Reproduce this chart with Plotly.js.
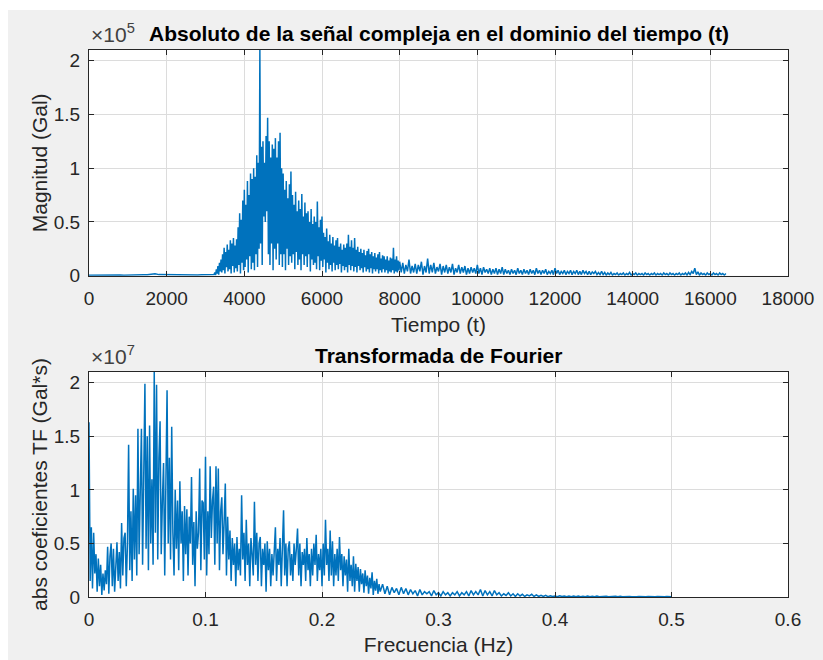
<!DOCTYPE html>
<html>
<head>
<meta charset="utf-8">
<script src="https://cdn.plot.ly/plotly-3.0.1.min.js"></script>
<style>
  html, body { margin: 0; padding: 0; background: #ffffff; }
  #fig { position: absolute; left: 8px; top: 10px; width: 815px; height: 650px; }
</style>
</head>
<body>
<div id="fig"></div>
<script>
// ---- Time-domain magnitude, in units of 1e5 Gal (axis multiplier x10^5) ----
// Quiet part before the arrival: t = 0 .. 3200, every 100 samples
const tPreStart = 0, tPreStep = 100;
const magPre = [0.003,0.004,0.003,0.005,0.004,0.006,0.005,0.004,0.006,0.005,0.007,0.006,0.008,0.007,0.009,0.008,0.012,0.018,0.01,0.009,0.011,0.008,0.01,0.009,0.008,0.01,0.009,0.008,0.007,0.009,0.008,0.01,0.012];

// Strong motion: t = 3220 .. 8000, every 20 samples
const tMainStart = 3220, tMainStep = 20;
const magMain = [
  0.01,0.03,0.005,0.06,0.02,0.09,0.01,0.12,0.04,0.15,
  0.03,0.2,0.05,0.26,0.02,0.22,0.08,0.29,0.04,0.24,
  0.06,0.33,0.02,0.3,0.09,0.35,0.03,0.28,0.07,0.34,
  0.04,0.45,0.1,0.58,0.02,0.52,0.12,0.7,0.05,0.8,
  0.08,0.66,0.15,0.88,0.03,0.75,0.18,0.95,0.06,0.9,
  0.12,1.0,0.05,0.92,0.2,1.12,0.08,1.05,0.25,2.1,
  0.3,1.2,0.1,1.25,0.55,1.05,0.5,1.3,0.6,1.47,
  0.2,1.25,0.1,1.1,0.3,1.22,0.05,1.18,0.25,1.28,
  0.15,1.1,0.3,1.25,0.1,1.33,0.2,1.0,0.08,0.95,
  0.2,0.8,0.05,0.88,0.25,0.72,0.1,0.85,0.18,0.97,
  0.12,0.75,0.2,0.66,0.06,0.78,0.22,0.6,0.1,0.7,
  0.15,0.62,0.05,0.76,0.2,0.55,0.1,0.68,0.18,0.58,
  0.08,0.6,0.2,0.5,0.04,0.62,0.15,0.48,0.1,0.55,
  0.12,0.5,0.06,0.69,0.18,0.45,0.05,0.52,0.14,0.55,
  0.08,0.4,0.15,0.36,0.03,0.44,0.12,0.32,0.06,0.38,
  0.1,0.3,0.04,0.36,0.12,0.28,0.05,0.33,0.1,0.35,
  0.06,0.27,0.11,0.3,0.03,0.24,0.09,0.29,0.05,0.26,
  0.08,0.3,0.03,0.38,0.1,0.27,0.05,0.33,0.09,0.26,
  0.04,0.35,0.08,0.24,0.03,0.27,0.09,0.22,0.05,0.25,
  0.07,0.21,0.03,0.24,0.08,0.19,0.04,0.23,0.06,0.25,
  0.03,0.2,0.07,0.22,0.02,0.18,0.06,0.21,0.04,0.17,
  0.06,0.2,0.02,0.22,0.05,0.16,0.03,0.19,0.06,0.18,
  0.03,0.15,0.05,0.18,0.02,0.14,0.04,0.17,0.03,0.16,
  0.05,0.26,0.02,0.15,0.04,0.18,0.03,0.14,0.05,0.13
];

// Coda: t = 8040 .. 16400, every 40 samples
const tTailStart = 8040, tTailStep = 40;
const magTail = [
  0.03,0.12,0.02,0.1,0.04,0.15,0.02,0.09,0.03,0.11,
  0.02,0.1,0.04,0.13,0.01,0.09,0.03,0.16,0.02,0.1,
  0.03,0.12,0.02,0.08,0.04,0.11,0.01,0.09,0.03,0.1,
  0.02,0.08,0.03,0.11,0.01,0.07,0.03,0.1,0.02,0.08,
  0.03,0.09,0.01,0.07,0.02,0.08,0.03,0.07,0.02,0.1,
  0.02,0.07,0.01,0.08,0.03,0.06,0.02,0.07,0.01,0.06,
  0.02,0.07,0.01,0.06,0.02,0.08,0.01,0.06,0.02,0.05,
  0.01,0.06,0.02,0.05,0.01,0.07,0.02,0.05,0.01,0.06,
  0.02,0.05,0.01,0.06,0.02,0.05,0.01,0.07,0.02,0.05,
  0.01,0.05,0.02,0.06,0.01,0.04,0.02,0.05,0.01,0.07,
  0.02,0.05,0.01,0.04,0.02,0.05,0.01,0.04,0.02,0.05,
  0.01,0.04,0.02,0.05,0.01,0.04,0.01,0.05,0.02,0.04,
  0.01,0.04,0.01,0.035,0.02,0.04,0.01,0.03,0.01,0.04,
  0.01,0.03,0.005,0.025,0.01,0.03,0.005,0.02,0.01,0.025,
  0.005,0.02,0.01,0.025,0.005,0.02,0.01,0.03,0.005,0.02,
  0.01,0.025,0.005,0.02,0.01,0.02,0.005,0.025,0.01,0.02,
  0.005,0.02,0.01,0.025,0.005,0.02,0.01,0.02,0.005,0.025,
  0.01,0.02,0.005,0.025,0.01,0.02,0.005,0.02,0.01,0.025,
  0.005,0.02,0.01,0.025,0.005,0.03,0.01,0.04,0.02,0.07,
  0.01,0.035,0.005,0.025,0.01,0.02,0.005,0.025,0.01,0.02,
  0.005,0.025,0.01,0.02,0.005,0.025,0.01,0.02,0.005,0.02
];

// ---- Fourier transform magnitude, in units of 1e7 Gal*s (axis multiplier x10^7) ----
// Low band: f = 0 .. 0.25 Hz, every 0.001 Hz
const fLowStart = 0, fLowStep = 0.001;
const tfLow = [
  1.63,0.15,0.65,0.08,0.6,0.22,0.4,0.05,0.36,0.1,
  0.3,0.02,0.22,0.06,0.25,0.12,0.47,0.03,0.38,0.5,
  0.1,0.45,0.05,0.38,0.51,0.15,0.42,0.08,0.69,0.2,
  0.55,0.6,0.1,0.5,1.42,0.25,0.8,0.15,1.01,0.35,
  0.95,0.2,1.57,0.4,1.0,1.57,0.3,1.2,1.99,0.45,
  1.5,0.25,1.6,0.5,1.1,0.3,2.1,0.6,1.98,0.35,
  1.3,1.64,0.4,0.9,1.25,0.2,1.0,1.93,0.5,1.3,
  0.35,1.59,0.6,0.2,1.0,0.45,0.9,0.25,1.08,0.5,
  0.8,0.15,0.85,0.4,0.82,0.2,0.75,0.5,1.12,0.3,
  0.7,0.1,0.8,0.45,0.6,1.2,0.25,0.9,0.88,0.35,
  1.31,0.2,0.8,0.4,1.22,0.55,0.9,1.03,0.3,1.22,
  0.5,1.2,0.25,0.8,0.93,0.4,0.7,1.06,0.2,0.75,
  0.35,0.62,0.15,0.55,0.3,0.5,0.1,0.56,0.25,0.45,
  0.2,0.95,0.35,0.6,0.15,0.72,0.3,0.5,0.1,0.55,
  0.4,0.2,0.89,0.3,0.6,0.15,0.5,0.56,0.1,0.45,
  0.3,0.5,0.05,0.52,0.25,0.45,0.1,0.4,0.2,0.5,
  0.65,0.15,0.45,0.3,0.55,0.1,0.4,0.81,0.2,0.5,
  0.1,0.45,0.52,0.2,0.4,0.15,0.5,0.3,0.45,0.64,
  0.2,0.5,0.1,0.42,0.3,0.45,0.15,0.55,0.25,0.4,
  0.1,0.45,0.2,0.5,0.3,0.58,0.15,0.4,0.25,0.45,
  0.1,0.5,0.2,0.72,0.3,0.45,0.15,0.62,0.2,0.52,
  0.1,0.4,0.2,0.45,0.15,0.56,0.25,0.4,0.1,0.38,
  0.2,0.35,0.05,0.45,0.15,0.3,0.1,0.38,0.05,0.31,
  0.15,0.28,0.05,0.26,0.12,0.22,0.04,0.25,0.1,0.2,
  0.03,0.18,0.08,0.23,0.02,0.15,0.06,0.17,0.03,0.12,
  0.05
];

// High band: f = 0.252 .. 0.5 Hz, every 0.002 Hz
const fHighStart = 0.252, fHighStep = 0.002;
const tfHigh = [
  0.12,0.03,0.1,0.02,0.09,0.04,0.08,0.02,0.09,0.03,
  0.08,0.02,0.07,0.03,0.06,0.01,0.07,0.02,0.05,0.03,
  0.05,0.01,0.06,0.02,0.04,0.01,0.05,0.02,0.04,0.01,
  0.04,0.02,0.05,0.01,0.04,0.02,0.05,0.01,0.06,0.02,
  0.05,0.02,0.07,0.01,0.06,0.02,0.05,0.01,0.06,0.02,
  0.04,0.01,0.03,0.015,0.04,0.01,0.03,0.005,0.03,0.01,
  0.025,0.005,0.02,0.01,0.025,0.005,0.02,0.005,0.015,0.005,
  0.015,0.003,0.012,0.005,0.01,0.003,0.012,0.004,0.01,0.003,
  0.008,0.003,0.01,0.002,0.008,0.003,0.007,0.002,0.008,0.003,
  0.007,0.002,0.008,0.003,0.006,0.002,0.007,0.003,0.006,0.002,
  0.006,0.002,0.007,0.003,0.006,0.002,0.005,0.002,0.006,0.003,
  0.005,0.002,0.006,0.002,0.005,0.003,0.004,0.002,0.005,0.002,
  0.004,0.002,0.005,0.002,0.003
];

// Tick values and labels for both panels
const yTicks = [0, 0.5, 1, 1.5, 2];
const yTickText = ['0', '0.5', '1', '1.5', '2'];
const xTicksTime = [0, 2000, 4000, 6000, 8000, 10000, 12000, 14000, 16000, 18000];
const xTickTextTime = ['0', '2000', '4000', '6000', '8000', '10000', '12000', '14000', '16000', '18000'];
const xTicksFreq = [0, 0.1, 0.2, 0.3, 0.4, 0.5, 0.6];
const xTickTextFreq = ['0', '0.1', '0.2', '0.3', '0.4', '0.5', '0.6'];

// Sample axis for a uniformly sampled block
function sampleAxis(start, step, n) {
  const out = new Array(n);
  for (let i = 0; i < n; i++) out[i] = +(start + i * step).toFixed(6);
  return out;
}

const tiempo = [].concat(
  sampleAxis(tPreStart, tPreStep, magPre.length),
  sampleAxis(tMainStart, tMainStep, magMain.length),
  sampleAxis(tTailStart, tTailStep, magTail.length)
);
const magnitud = [].concat(magPre, magMain, magTail);

const frecuencia = [].concat(
  sampleAxis(fLowStart, fLowStep, tfLow.length),
  sampleAxis(fHighStart, fHighStep, tfHigh.length)
);
const coefTF = [].concat(tfLow, tfHigh);

const BLUE = '#0072BD';
const INK = '#262626';
const GRID = '#dcdcdc';
const FONT = '"Liberation Sans", Arial, Helvetica, sans-serif';

const traces = [
  { x: tiempo, y: magnitud, type: 'scatter', mode: 'lines',
    line: { color: BLUE, width: 1.5 }, xaxis: 'x', yaxis: 'y', hoverinfo: 'skip' },
  { x: frecuencia, y: coefTF, type: 'scatter', mode: 'lines',
    line: { color: BLUE, width: 1.5 }, xaxis: 'x2', yaxis: 'y2', hoverinfo: 'skip' }
];

function axisStyle(extra) {
  return Object.assign({
    showline: true, linecolor: INK, linewidth: 1, mirror: 'ticks',
    ticks: 'inside', ticklen: 5, tickwidth: 1, tickcolor: INK,
    showgrid: true, gridcolor: GRID, gridwidth: 1, zeroline: false,
    tickmode: 'array',
    tickfont: { family: FONT, size: 19, color: INK },
    fixedrange: true
  }, extra);
}

const TOP_BOTTOM = 0.5874, BOT_TOP = 0.4113;
const labelFont = { family: FONT, size: 21, color: INK };

const layout = {
  width: 815, height: 650,
  margin: { l: 81, r: 35, t: 40, b: 63 },
  paper_bgcolor: '#f0f0f0',
  plot_bgcolor: '#ffffff',
  showlegend: false,
  font: { family: FONT, color: INK },
  xaxis: axisStyle({
    domain: [0, 1], anchor: 'y', range: [0, 18000],
    tickvals: xTicksTime, ticktext: xTickTextTime, ticklabelstandoff: 6,
    title: { text: 'Tiempo (t)', font: labelFont, standoff: 8 }
  }),
  yaxis: axisStyle({
    domain: [TOP_BOTTOM, 1], anchor: 'x', range: [0, 2.1],
    tickvals: yTicks, ticktext: yTickText, ticklabelstandoff: 4,
    title: { text: 'Magnitud (Gal)', font: labelFont, standoff: 0 }
  }),
  xaxis2: axisStyle({
    domain: [0, 1], anchor: 'y2', range: [0, 0.6],
    tickvals: xTicksFreq, ticktext: xTickTextFreq, ticklabelstandoff: 5,
    title: { text: 'Frecuencia (Hz)', font: labelFont, standoff: 8 }
  }),
  yaxis2: axisStyle({
    domain: [0, BOT_TOP], anchor: 'x2', range: [0, 2.1],
    tickvals: yTicks, ticktext: yTickText, ticklabelstandoff: 4,
    title: { text: 'abs coeficientes TF (Gal*s)', font: labelFont, standoff: 0 }
  }),
  annotations: [
    { text: '<b>Absoluto de la señal compleja en el dominio del tiempo (t)</b>',
      xref: 'paper', yref: 'paper', x: 0.5, y: 1, xanchor: 'center', yanchor: 'bottom',
      yshift: 3, showarrow: false, font: { family: FONT, size: 21, color: '#000000' } },
    { text: '<b>Transformada de Fourier</b>',
      xref: 'paper', yref: 'paper', x: 0.5, y: BOT_TOP, xanchor: 'center', yanchor: 'bottom',
      yshift: 3, showarrow: false, font: { family: FONT, size: 21, color: '#000000' } },
    { text: '×10<sup>5</sup>',
      xref: 'paper', yref: 'paper', x: 0, y: 1, xanchor: 'left', yanchor: 'bottom',
      yshift: 2, showarrow: false, font: { family: FONT, size: 21, color: '#404040' } },
    { text: '×10<sup>7</sup>',
      xref: 'paper', yref: 'paper', x: 0, y: BOT_TOP, xanchor: 'left', yanchor: 'bottom',
      yshift: 2, showarrow: false, font: { family: FONT, size: 21, color: '#404040' } }
  ]
};

Plotly.newPlot('fig', traces, layout, { staticPlot: true, displayModeBar: false });
</script>
</body>
</html>
